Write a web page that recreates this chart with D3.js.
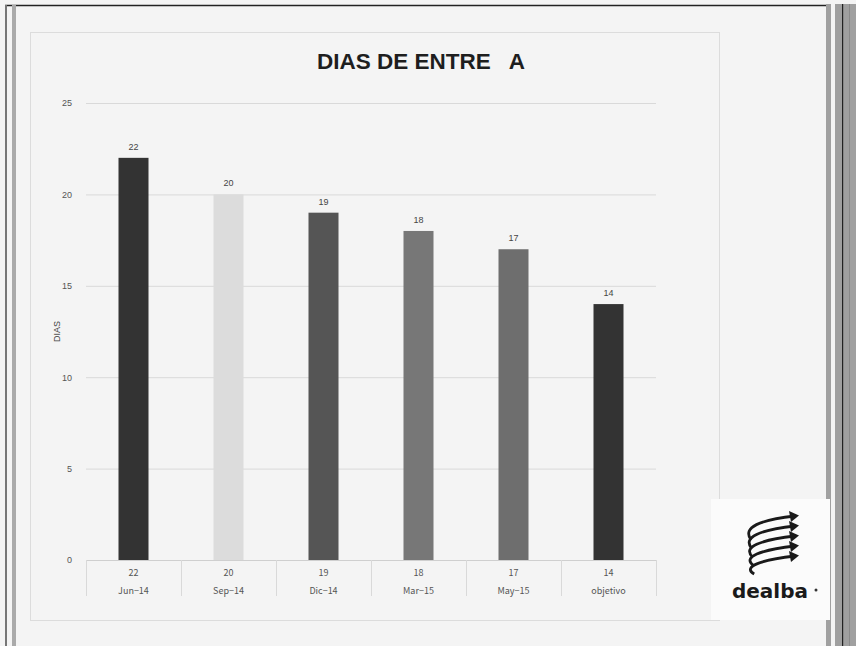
<!DOCTYPE html>
<html>
<head>
<meta charset="utf-8">
<script src="https://cdn.jsdelivr.net/npm/d3@7"></script>
<style>
  html, body { margin: 0; padding: 0; background: #f4f4f4; }
  svg { display: block; }
</style>
</head>
<body>
<script>
// Period labels and days per period
const categories = ["Jun-14", "Sep-14", "Dic-14", "Mar-15", "May-15", "objetivo"];
const dias = [22, 20, 19, 18, 17, 14];
const barColors = ["#333333", "#dcdcdc", "#555555", "#777777", "#6e6e6e", "#333333"];
const yTicks = [0, 5, 10, 15, 20, 25];

const W = 856, H = 646;
const svg = d3.select("body").append("svg").attr("width", W).attr("height", H);

svg.append("rect").attr("width", W).attr("height", H).attr("fill", "#f4f4f4");

// Slide frame
svg.append("line").attr("x1", 5).attr("x2", 828).attr("y1", 5.5).attr("y2", 5.5).attr("stroke", "#222").attr("stroke-width", 1.5);
svg.append("rect").attr("x", 5).attr("y", 5).attr("width", 2).attr("height", H).attr("fill", "#777");
svg.append("rect").attr("x", 12).attr("y", 5).attr("width", 4).attr("height", H).attr("fill", "#aaa");
svg.append("rect").attr("x", 826).attr("y", 4).attr("width", 5).attr("height", H).attr("fill", "#a0a0a0");
svg.append("rect").attr("x", 835).attr("y", 4).attr("width", 21).attr("height", H).attr("fill", "#a0a0a0");
svg.append("rect").attr("x", 842).attr("y", 4).attr("width", 1.2).attr("height", H).attr("fill", "#222");
svg.append("rect").attr("x", 849).attr("y", 4).attr("width", 1).attr("height", H).attr("fill", "#8a8a8a");

// Chart panel
svg.append("rect").attr("x", 30.5).attr("y", 32.5).attr("width", 689).attr("height", 588)
  .attr("fill", "#f4f4f4").attr("stroke", "#dcdcdc").attr("stroke-width", 1);

svg.append("text").attr("x", 421).attr("y", 69).attr("text-anchor", "middle")
  .attr("font-family", "Liberation Sans, Arial, sans-serif").attr("font-weight", "bold")
  .attr("font-size", 22.5).attr("fill", "#1e1e1e").style("white-space", "pre")
  .text("DIAS DE ENTRE   A");

const plotLeft = 86, plotRight = 656, plotTop = 103, plotBottom = 560;
const x = d3.scaleBand().domain(categories).range([plotLeft, plotRight]).paddingInner(0).paddingOuter(0);
const y = d3.scaleLinear().domain([0, 25]).range([plotBottom, plotTop]);

// Gridlines and y tick labels
const yAxis = svg.append("g").attr("transform", `translate(${plotLeft},0)`)
  .call(d3.axisLeft(y).tickValues(yTicks).tickSize(-(plotRight - plotLeft)).tickPadding(14));
yAxis.select(".domain").remove();
yAxis.selectAll(".tick line").attr("stroke", "#d9d9d9").attr("stroke-width", 1);
yAxis.selectAll(".tick text").attr("font-family", "Liberation Sans, Arial, sans-serif")
  .attr("font-size", 9).attr("fill", "#555");

svg.append("text").attr("transform", `translate(60,${(plotTop + plotBottom) / 2}) rotate(-90)`)
  .attr("text-anchor", "middle").attr("font-family", "Liberation Sans, Arial, sans-serif")
  .attr("font-size", 9).attr("fill", "#444").text("DIAS");

// Bars
const bw = 30;
svg.append("g").selectAll("rect").data(categories).join("rect")
  .attr("x", (d) => x(d) + x.bandwidth() / 2 - bw / 2)
  .attr("y", (d, i) => y(dias[i]))
  .attr("width", bw)
  .attr("height", (d, i) => y(0) - y(dias[i]))
  .attr("fill", (d, i) => barColors[i]);

// Value labels above bars
svg.append("g").selectAll("text").data(categories).join("text")
  .attr("x", (d) => x(d) + x.bandwidth() / 2)
  .attr("y", (d, i) => y(dias[i]) - 8)
  .attr("text-anchor", "middle").attr("font-family", "Liberation Sans, Arial, sans-serif")
  .attr("font-size", 9).attr("fill", "#444").text((d, i) => dias[i]);

// Data table under the axis
const table = svg.append("g");
table.append("line").attr("x1", plotLeft).attr("x2", plotRight).attr("y1", plotBottom + 0.5).attr("y2", plotBottom + 0.5)
  .attr("stroke", "#cfcfcf");
[...categories.map((d) => x(d)), plotRight].forEach((px) => {
  table.append("line").attr("x1", px + 0.5).attr("x2", px + 0.5).attr("y1", plotBottom).attr("y2", 596)
    .attr("stroke", "#d9d9d9");
});
const tblFont = "Noto Sans CJK JP, DejaVu Sans, sans-serif";
table.selectAll("text.v").data(categories).join("text").attr("class", "v")
  .attr("x", (d) => x(d) + x.bandwidth() / 2).attr("y", 576)
  .attr("text-anchor", "middle").attr("font-family", tblFont).attr("font-size", 9)
  .attr("fill", "#555").text((d, i) => dias[i]);
table.selectAll("text.c").data(categories).join("text").attr("class", "c")
  .attr("x", (d) => x(d) + x.bandwidth() / 2).attr("y", 594)
  .attr("text-anchor", "middle").attr("font-family", tblFont).attr("font-size", 9)
  .attr("fill", "#555").text((d) => d.replace("-", "\u2212"));

// Company logo
const logo = svg.append("g");
logo.append("rect").attr("x", 711).attr("y", 499).attr("width", 119).attr("height", 121).attr("fill", "#fbfbfb");
for (let k = 0; k < 5; k++) {
  const oy = 520 + k * 10;
  logo.append("path")
    .attr("d", `M${751 + k * 0.8},${oy + 20 - k * 1.5} C${742},${oy + 7} ${760},${oy} ${795},${oy - 4}`)
    .attr("fill", "none").attr("stroke", "#1a1a1a").attr("stroke-width", 2.8);
  logo.append("path")
    .attr("d", `M${789},${oy - 9} L${799},${oy - 4.5} L${791},${oy + 2} Z`)
    .attr("fill", "#1a1a1a");
}
logo.append("text").attr("x", 770).attr("y", 598).attr("text-anchor", "middle")
  .attr("font-family", "DejaVu Sans, Liberation Sans, sans-serif").attr("font-weight", "bold")
  .attr("font-size", 20).attr("fill", "#1a1a1a").text("dealba");
logo.append("circle").attr("cx", 816).attr("cy", 590).attr("r", 1.5).attr("fill", "#333");
</script>
</body>
</html>
